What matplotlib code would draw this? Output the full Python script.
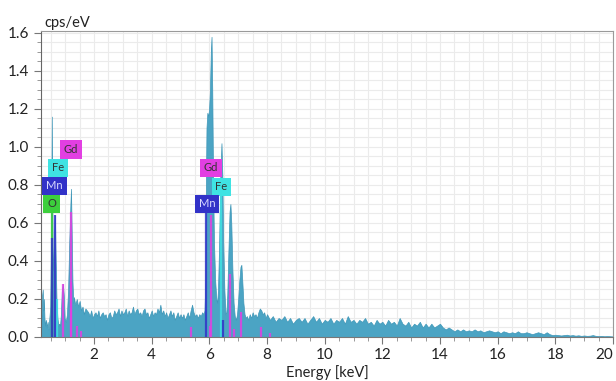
import matplotlib
matplotlib.use("Agg")
import matplotlib.pyplot as plt
from matplotlib.ticker import MultipleLocator, FixedLocator

# ---------------- data ----------------
energy_low = [0.15, 0.18, 0.20, 0.22, 0.24, 0.26, 0.28, 0.30, 0.33, 0.36, 0.39, 0.42, 0.45,
              0.48, 0.50, 0.52, 0.535, 0.55, 0.57, 0.59, 0.62, 0.645, 0.67, 0.70, 0.73,
              0.76, 0.79, 0.82, 0.85, 0.88, 0.92, 0.95, 0.98, 1.02, 1.06, 1.10, 1.14,
              1.18, 1.20, 1.22, 1.25, 1.28]
cps_low = [0.02, 0.12, 0.22, 0.25, 0.14, 0.20, 0.10, 0.06, 0.09, 0.05, 0.08, 0.04, 0.10,
           0.16, 0.40, 0.80, 1.16, 0.75, 0.35, 0.40, 0.55, 0.64, 0.40, 0.18, 0.10,
           0.06, 0.07, 0.06, 0.12, 0.24, 0.28, 0.22, 0.10, 0.08, 0.12, 0.25, 0.50,
           0.70, 0.78, 0.60, 0.30, 0.18]

energy_bg1 = [1.30, 1.35, 1.40, 1.45, 1.50, 1.55, 1.60, 1.65, 1.70, 1.75, 1.80, 1.85, 1.90,
              1.95, 2.00, 2.05, 2.10, 2.15, 2.20, 2.25, 2.30, 2.35, 2.40, 2.45, 2.50, 2.55,
              2.60, 2.65, 2.70, 2.75, 2.80, 2.85, 2.90, 2.95, 3.00, 3.05, 3.10, 3.15, 3.20,
              3.25, 3.30, 3.35, 3.40, 3.45, 3.50, 3.55, 3.60, 3.65, 3.70, 3.75, 3.80, 3.85,
              3.90, 3.95, 4.00, 4.05, 4.10, 4.15, 4.20, 4.25, 4.30, 4.35, 4.40, 4.45, 4.50,
              4.55, 4.60, 4.65, 4.70, 4.75, 4.80, 4.85, 4.90, 4.95, 5.00, 5.05, 5.10, 5.15,
              5.20, 5.25, 5.30, 5.35, 5.40, 5.45, 5.50, 5.55, 5.60, 5.65, 5.70, 5.75, 5.80]
cps_bg1 = [0.21, 0.17, 0.20, 0.16, 0.19, 0.14, 0.16, 0.12, 0.15, 0.14, 0.13, 0.11, 0.14,
           0.10, 0.12, 0.13, 0.11, 0.14, 0.10, 0.12, 0.13, 0.11, 0.12, 0.09, 0.12, 0.13,
           0.10, 0.11, 0.14, 0.12, 0.13, 0.15, 0.11, 0.14, 0.12, 0.13, 0.15, 0.11, 0.14,
           0.12, 0.13, 0.16, 0.12, 0.14, 0.15, 0.12, 0.13, 0.11, 0.14, 0.15, 0.12, 0.13,
           0.10, 0.12, 0.14, 0.11, 0.13, 0.12, 0.15, 0.13, 0.17, 0.12, 0.14, 0.11, 0.13,
           0.10, 0.12, 0.14, 0.11, 0.13, 0.09, 0.11, 0.13, 0.10, 0.12, 0.10, 0.12, 0.09,
           0.11, 0.13, 0.10, 0.14, 0.17, 0.13, 0.11, 0.12, 0.10, 0.12, 0.11, 0.13, 0.12]

energy_k = [5.83, 5.86, 5.88, 5.90, 5.93, 5.96, 5.99, 6.02, 6.05, 6.075, 6.10, 6.13, 6.16,
            6.20, 6.24, 6.27, 6.30, 6.34, 6.38, 6.42, 6.45, 6.48, 6.52, 6.56, 6.59, 6.62,
            6.66, 6.70, 6.73, 6.76, 6.80, 6.84, 6.88, 6.92, 6.96, 7.00, 7.04, 7.08, 7.11,
            7.14, 7.18, 7.22, 7.26, 7.30]
cps_k = [0.14, 0.30, 0.80, 1.10, 1.18, 1.16, 1.20, 1.30, 1.50, 1.58, 1.30, 0.80, 0.50,
         0.30, 0.20, 0.18, 0.25, 0.50, 0.85, 1.02, 0.85, 0.50, 0.25, 0.12, 0.13, 0.22,
         0.45, 0.66, 0.70, 0.60, 0.35, 0.18, 0.11, 0.09, 0.12, 0.20, 0.30, 0.37, 0.38,
         0.30, 0.18, 0.12, 0.10, 0.11]

energy_bg2 = [7.35, 7.40, 7.45, 7.50, 7.55, 7.60, 7.65, 7.70, 7.75, 7.80, 7.85, 7.90, 7.95, 8.00,
              8.1, 8.2, 8.3, 8.4, 8.5, 8.6, 8.7, 8.8, 8.9, 9.0, 9.1, 9.2, 9.3, 9.4, 9.5, 9.6,
              9.7, 9.8, 9.9, 10.0, 10.1, 10.2, 10.3, 10.4, 10.5, 10.6, 10.7, 10.8, 10.9, 11.0,
              11.1, 11.2, 11.3, 11.4, 11.5, 11.6, 11.7, 11.8, 11.9, 12.0, 12.1, 12.2, 12.3,
              12.4, 12.5, 12.6, 12.7, 12.8, 12.9, 13.0, 13.1, 13.2, 13.3, 13.4, 13.5, 13.6,
              13.7, 13.8, 13.9, 14.0, 14.1, 14.2, 14.3, 14.4, 14.5, 14.6, 14.7, 14.8, 14.9,
              15.0, 15.1, 15.2, 15.3, 15.4, 15.5, 15.6, 15.7, 15.8, 15.9, 16.0, 16.1, 16.2,
              16.3, 16.4, 16.5, 16.6, 16.7, 16.8, 16.9, 17.0, 17.1, 17.2, 17.3, 17.4, 17.5,
              17.6, 17.7, 17.8, 17.9, 18.0, 18.1, 18.2, 18.3, 18.4, 18.5, 18.6, 18.7, 18.8,
              18.9, 19.0, 19.1, 19.2, 19.3, 19.4, 19.5, 19.6, 19.7, 19.8, 19.9, 20.0]
cps_bg2 = [0.09, 0.12, 0.10, 0.13, 0.11, 0.12, 0.10, 0.13, 0.15, 0.14, 0.12, 0.13, 0.10, 0.12,
           0.09, 0.11, 0.08, 0.10, 0.09, 0.11, 0.08, 0.10, 0.07, 0.09, 0.10, 0.08, 0.10, 0.07,
           0.09, 0.11, 0.08, 0.10, 0.07, 0.09, 0.08, 0.10, 0.07, 0.09, 0.08, 0.10, 0.07, 0.11,
           0.08, 0.09, 0.07, 0.09, 0.08, 0.10, 0.07, 0.08, 0.06, 0.09, 0.07, 0.08, 0.06, 0.09,
           0.07, 0.08, 0.06, 0.10, 0.07, 0.06, 0.08, 0.05, 0.07, 0.06, 0.08, 0.05, 0.07, 0.05,
           0.07, 0.05, 0.06, 0.07, 0.05, 0.04, 0.05, 0.04, 0.03, 0.04, 0.03, 0.04, 0.03,
           0.035, 0.03, 0.04, 0.03, 0.035, 0.025, 0.03, 0.035, 0.03, 0.025, 0.03, 0.02, 0.03,
           0.025, 0.02, 0.025, 0.02, 0.03, 0.02, 0.02, 0.025, 0.02, 0.015, 0.02, 0.025, 0.02,
           0.015, 0.025, 0.015, 0.01, 0.012, 0.01, 0.008, 0.01, 0.012, 0.008, 0.01, 0.007,
           0.009, 0.006, 0.008, 0.006, 0.007, 0.01, 0.006, 0.005, 0.006, 0.004, 0.005, 0.004,
           0.003]

energy = energy_low + energy_bg1 + energy_k + energy_bg2
cps = cps_low + cps_bg1 + cps_k + cps_bg2

# element marker lines (keV, cps height)
o_line_E = [0.525]
o_line_h = [0.66]
mn_line_E = [0.556, 0.637, 5.899, 6.490]
mn_line_h = [0.52, 0.64, 0.66, 0.09]
fe_line_E = [0.705, 6.404]
fe_line_h = [0.20, 0.76]
gd_line_E = [0.914, 1.185, 1.209, 1.40, 1.55, 5.362, 6.025, 6.057, 6.713, 6.867, 7.102, 7.785, 8.10]
gd_line_h = [0.28, 0.29, 0.66, 0.06, 0.03, 0.05, 0.06, 0.64, 0.33, 0.04, 0.13, 0.05, 0.02]

# element labels: (text, keV, cps)
label_names = ["O", "Mn", "Fe", "Gd", "Gd", "Fe", "Mn"]
label_E = [0.53, 0.63, 0.735, 1.19, 6.06, 6.42, 5.92]
label_y = [0.70, 0.795, 0.89, 0.985, 0.89, 0.79, 0.70]

x_ticks = [2, 4, 6, 8, 10, 12, 14, 16, 18, 20]
y_ticks = [0.0, 0.2, 0.4, 0.6, 0.8, 1.0, 1.2, 1.4, 1.6]

colors = {"O": "#3ccf3c", "Mn": "#3232c8", "Fe": "#3fe3e3", "Gd": "#e23fe2"}
text_colors = {"O": "#333333", "Mn": "#d8d8ff", "Fe": "#333333", "Gd": "#333333"}

# ---------------- figure ----------------
plt.rcParams['font.family'] = ['Lato', 'DejaVu Sans']
fig = plt.figure(figsize=(6.16, 3.81), dpi=100)
ax = fig.add_axes([41/616, 44/381, 572/616, 306/381])
ax.set_xlim(0.16, 20)
ax.set_ylim(0, 1.6105)

ax.xaxis.set_major_locator(FixedLocator(x_ticks))
ax.xaxis.set_minor_locator(MultipleLocator(0.5))
ax.yaxis.set_major_locator(FixedLocator(y_ticks))
ax.yaxis.set_minor_locator(MultipleLocator(0.05))
ax.set_yticklabels([f"{v:.1f}" for v in y_ticks])
ax.set_xticklabels([str(v) for v in x_ticks])
ax.grid(which='both', color='#ebebeb', linewidth=0.8, zorder=0)
ax.set_axisbelow(True)

ax.fill_between(energy, cps, 0, color='#4ba4c4', edgecolor='#3f97b8', linewidth=0.5, zorder=2)

for E_list, h_list, key in [(o_line_E, o_line_h, "O"), (gd_line_E, gd_line_h, "Gd"),
                            (fe_line_E, fe_line_h, "Fe"), (mn_line_E, mn_line_h, "Mn")]:
    ax.vlines(E_list, 0, h_list, colors=colors[key], linewidth=1.6, alpha=0.85, zorder=3)

for name, xe, ye in zip(label_names, label_E, label_y):
    ax.text(xe, ye, name, ha='center', va='center', fontsize=8, color=text_colors[name],
            zorder=5,
            bbox=dict(boxstyle='square,pad=0.35', facecolor=colors[name], edgecolor='none'))

for s in ['top', 'right']:
    ax.spines[s].set_color('#9a9a9a')
ax.spines['left'].set_color('#666666')
ax.spines['bottom'].set_color('#777777')

ax.tick_params(axis='both', which='major', labelsize=11, length=5, color='#777777',
               labelcolor='#222222', direction='out')
ax.tick_params(axis='both', which='minor', length=3, color='#888888', direction='out')
ax.tick_params(axis='x', pad=3)
ax.get_xticklabels()[-1].set_horizontalalignment('right')

ax.set_xlabel("Energy [keV]", fontsize=10.5, color='#222222', labelpad=2)
fig.text(44/616, 1 - 23/381, "cps/eV", fontsize=10.5, color='#222222', ha='left', va='center')

fig.savefig("out.png", dpi=100)
